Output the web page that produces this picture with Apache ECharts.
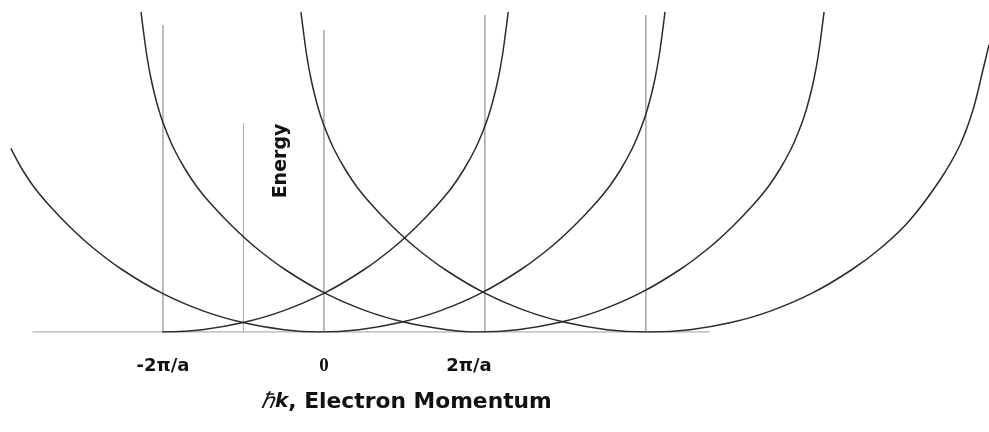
<!DOCTYPE html>
<html><head><meta charset="utf-8">
<script src="https://cdn.jsdelivr.net/npm/echarts@6/dist/echarts.min.js"></script>
<style>html,body{margin:0;padding:0;background:#fff}#c{width:989px;height:432px}</style>
</head><body><div id="c"></div>
<script>
// tick labels (k in units of pi/a)
const tickValues = [-2, 0, 2];
const tickLabels = ['-2π/a', '0', '2π/a'];
// vertical reference lines (k) and their top energies
const vLineK = [-2, -1, 0, 2, 4];
const vLineTop = [30.7, 20.9, 30.2, 31.7, 31.7];
// baseline extent
const baseK = [-3.62, 4.79];
// free-electron bands: k in pi/a, energy in arb. units
const bandM2K = [-2.01, -1.513, -1.004, -0.507, 0.003, 0.5, 0.872, 1.158, 1.407, 1.593, 1.742, 1.879, 1.966, 2.04, 2.102, 2.164, 2.214, 2.251, 2.289];
const bandM2E = [0, 0.23, 0.94, 2.11, 3.88, 6.25, 8.5, 10.6, 12.7, 14.5, 16.3, 18.3, 19.9, 21.5, 23.2, 25.3, 27.5, 29.6, 32.0];
const band0K = [-3.889, -3.752, -3.603, -3.417, -3.168, -2.882, -2.51, -2.013, -1.503, -1.006, -0.497,
  -0.062, 0.435, 0.944, 1.441, 1.951, 2.448, 2.82, 3.106, 3.355, 3.541, 3.69, 3.827, 3.914, 3.988, 4.05, 4.112, 4.162, 4.199, 4.237];
const band0E = [18.37, 16.3, 14.5, 12.7, 10.6, 8.5, 6.25, 3.88, 2.11, 0.94, 0.23,
  0, 0.23, 0.94, 2.11, 3.88, 6.25, 8.5, 10.6, 12.7, 14.5, 16.3, 18.3, 19.9, 21.5, 23.2, 25.3, 27.5, 29.6, 32.0];
const band2K = [-2.273, -2.235, -2.198, -2.148, -2.086, -2.024, -1.95, -1.863, -1.726, -1.577, -1.391, -1.142, -0.856, -0.484, 0.013, 0.523, 1.02, 1.529,
  1.914, 2.411, 2.92, 3.417, 3.927, 4.424, 4.796, 5.082, 5.331, 5.517, 5.666, 5.803, 5.89, 5.964, 6.026, 6.088, 6.138, 6.175, 6.213];
const band2E = [32.0, 29.6, 27.5, 25.3, 23.2, 21.5, 19.9, 18.3, 16.3, 14.5, 12.7, 10.6, 8.5, 6.25, 3.88, 2.11, 0.94, 0.23,
  0, 0.23, 0.94, 2.11, 3.88, 6.25, 8.5, 10.6, 12.7, 14.5, 16.3, 18.3, 19.9, 21.5, 23.2, 25.3, 27.5, 29.6, 32.0];
const band4K = [-0.286, -0.248, -0.211, -0.161, -0.099, -0.037, 0.037, 0.124, 0.261, 0.41, 0.596, 0.845, 1.131, 1.503, 2.0, 2.51, 3.007, 3.516, 4.013,
  4.051, 4.548, 5.057, 5.554, 6.064, 6.561, 6.933, 7.281, 7.653, 7.902, 8.063, 8.187, 8.262];
const band4E = [32.0, 29.6, 27.5, 25.3, 23.2, 21.5, 19.9, 18.3, 16.3, 14.5, 12.7, 10.6, 8.5, 6.25, 3.88, 2.11, 0.94, 0.23, 0,
  0, 0.23, 0.94, 2.11, 3.88, 6.25, 8.5, 11.2, 15.2, 18.7, 22.2, 26.2, 28.7];

const zip = (a, b) => a.map((v, i) => [v, b[i]]);
const chart = echarts.init(document.getElementById('c'), null, {renderer: 'canvas'});

const series = [];
vLineK.forEach((k, i) => {
  series.push({
    type: 'line', data: [[k, 0], [k, vLineTop[i]]], symbol: 'none', silent: true,
    lineStyle: {color: k === -1 ? '#aaa' : '#777', width: 1}, z: 1
  });
});
series.push({
  type: 'line', data: [[baseK[0], 0], [baseK[1], 0]], symbol: 'none', silent: true,
  lineStyle: {color: '#b5b5b5', width: 1.5}, z: 1
});
[[bandM2K, bandM2E], [band0K, band0E], [band2K, band2E], [band4K, band4E]].forEach(([k, e]) => {
  series.push({
    type: 'line', data: zip(k, e), symbol: 'none', smooth: 0.35, silent: true,
    lineStyle: {color: '#2b2b2b', width: 1.5}, z: 3
  });
});

chart.setOption({
  animation: false,
  backgroundColor: '#fff',
  grid: {left: 2, right: 1, top: 0, bottom: 100},
  xAxis: {
    type: 'value', min: -4, max: 8.25,
    axisLine: {show: false}, axisTick: {show: false}, splitLine: {show: false},
    axisLabel: {
      customValues: tickValues,
      margin: 25,
      formatter: v => {
        const i = tickValues.indexOf(v);
        const t = tickLabels[i];
        if (v === 0) return '{z|' + t + '}';
        if (v === 2) return '{b|' + t + '}';
        return '{a|' + t + '}';
      },
      rich: {
        a: {fontFamily: 'DejaVu Sans', fontWeight: 'bold', fontSize: 18, color: '#111'},
        b: {fontFamily: 'DejaVu Sans', fontWeight: 'bold', fontSize: 18, color: '#111', padding: [0, 32, 0, 0]},
        z: {fontFamily: 'Liberation Serif', fontWeight: 'bold', fontSize: 19, color: '#111'}
      }
    }
  },
  yAxis: {type: 'value', min: 0, max: 33.2, show: false},
  series: series,
  graphic: [
    {
      type: 'text', x: 281, y: 161, rotation: Math.PI / 2,
      style: {text: 'Energy', font: 'bold 19px "DejaVu Sans"', fill: '#111', align: 'center', verticalAlign: 'middle'}
    },
    {
      type: 'text', x: 261, y: 402,
      style: {
        text: '{h|ℏ}{k|k}{n|, Electron Momentum}',
        verticalAlign: 'middle', align: 'left',
        rich: {
          h: {fontFamily: 'Liberation Serif', fontStyle: 'italic', fontSize: 22, fill: '#111'},
          k: {fontFamily: 'DejaVu Sans', fontStyle: 'italic', fontWeight: 'bold', fontSize: 20, fill: '#111'},
          n: {fontFamily: 'DejaVu Sans', fontWeight: 'bold', fontSize: 21.8, fill: '#111'}
        }
      }
    }
  ]
});
</script>
</body></html>
